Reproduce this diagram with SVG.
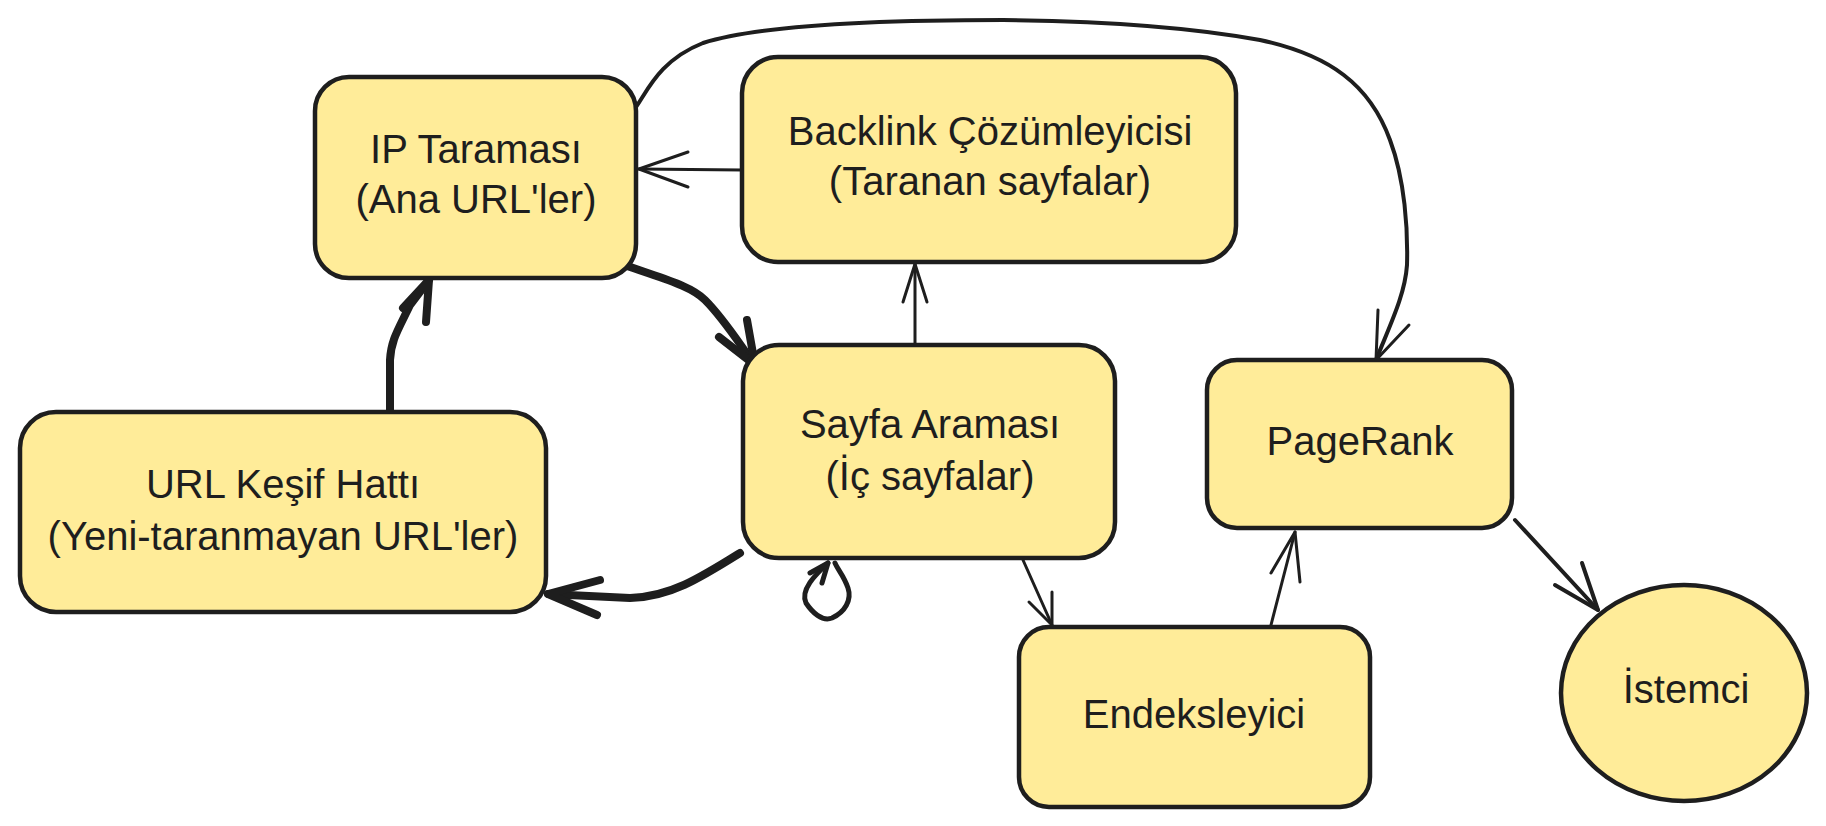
<svg xmlns="http://www.w3.org/2000/svg" width="1826" height="826" viewBox="0 0 1826 826">
<style>
.box{fill:#ffec99;stroke:#1e1e1e;stroke-width:4.5;stroke-linejoin:round}
.lbl{font-family:"Liberation Sans","DejaVu Sans",sans-serif;font-size:40px;fill:#1e1e1e;text-anchor:middle}
.c{fill:none;stroke:#1e1e1e;stroke-linecap:round;stroke-linejoin:round}
.thin{stroke-width:3}
.mid{stroke-width:4}
.loop{stroke-width:5}
.thick{stroke-width:8}
</style>
<rect width="1826" height="826" fill="#ffffff"/>
<g id="connectors">
  <!-- Backlink -> IP -->
  <path class="c thin" d="M742,170 L639,169"/>
  <path class="c thin" d="M688,152 L639,169 L688,187"/>
  <!-- Sayfa -> Backlink -->
  <path class="c thin" d="M915,343 L915,264"/>
  <path class="c thin" d="M903,302 L915,264 L927,302"/>
  <!-- IP -> Sayfa (thick) -->
  <path class="c thick" d="M622,264 C660,278 690,285 705,300 C725,320 740,345 755,365"/>
  <path class="c thick" d="M719,337 L755,365 L747,320"/>
  <!-- URL -> IP (thick) -->
  <path class="c thick" d="M390,410 L390,360 C391,340 398,330 410,305 L429,280"/>
  <path class="c thick" d="M403,308 L429,280 L426,322"/>
  <!-- Sayfa -> URL (thick) -->
  <path class="c thick" d="M740,553 C700,578 670,597 630,598 L548,594"/>
  <path class="c thick" d="M600,580 L548,594 L597,615"/>
  <!-- Self loop on Sayfa -->
  <path class="c loop" d="M828,563 C815,575 800,590 806,603 C812,612 822,622 832,618 C845,612 852,600 848,588 C844,576 838,570 835,563"/>
  <path class="c loop" d="M810,573 L828,563 L822,583"/>
  <!-- Sayfa -> Endeksleyici -->
  <path class="c thin" d="M1023,560 L1052,625"/>
  <path class="c thin" d="M1029,602 L1052,625 L1052,592"/>
  <!-- Endeksleyici -> PageRank -->
  <path class="c thin" d="M1271,625 L1295,532"/>
  <path class="c thin" d="M1271,573 L1295,532 L1300,582"/>
  <!-- PageRank -> İstemci -->
  <path class="c mid" d="M1515,520 L1598,610"/>
  <path class="c mid" d="M1555,585 L1598,610 L1582,563"/>
  <!-- IP -> PageRank (top curve) -->
  <path class="c mid" d="M636,107 C648,90 660,60 703,43 C760,25 880,20 1003,20 C1100,21 1190,27 1260,40 C1330,55 1370,85 1390,140 C1405,180 1408,230 1407,265 C1405,295 1390,325 1376,360"/>
  <path class="c thin" d="M1378,310 L1376,360 L1409,325"/>
</g>
<g id="node-ip">
  <rect class="box" x="315" y="77" width="321" height="201" rx="34"/>
  <text class="lbl" x="476" y="163">IP Taraması</text>
  <text class="lbl" x="476" y="213">(Ana URL'ler)</text>
</g>
<g id="node-backlink">
  <rect class="box" x="742" y="57" width="494" height="205" rx="36"/>
  <text class="lbl" x="990" y="145">Backlink Çözümleyicisi</text>
  <text class="lbl" x="990" y="195">(Taranan sayfalar)</text>
</g>
<g id="node-sayfa">
  <rect class="box" x="743" y="345" width="372" height="213" rx="36"/>
  <text class="lbl" x="930" y="438">Sayfa Araması</text>
  <text class="lbl" x="930" y="490">(İç sayfalar)</text>
</g>
<g id="node-url">
  <rect class="box" x="20" y="412" width="526" height="200" rx="36"/>
  <text class="lbl" x="283" y="498">URL Keşif Hattı</text>
  <text class="lbl" x="283" y="550">(Yeni-taranmayan URL'ler)</text>
</g>
<g id="node-pagerank">
  <rect class="box" x="1207" y="360" width="305" height="168" rx="30"/>
  <text class="lbl" x="1360" y="455">PageRank</text>
</g>
<g id="node-endeksleyici">
  <rect class="box" x="1019" y="627" width="351" height="180" rx="30"/>
  <text class="lbl" x="1194" y="728">Endeksleyici</text>
</g>
<g id="node-istemci">
  <ellipse class="box" cx="1684" cy="693" rx="123" ry="108"/>
  <text class="lbl" x="1686" y="703">İstemci</text>
</g>
</svg>
